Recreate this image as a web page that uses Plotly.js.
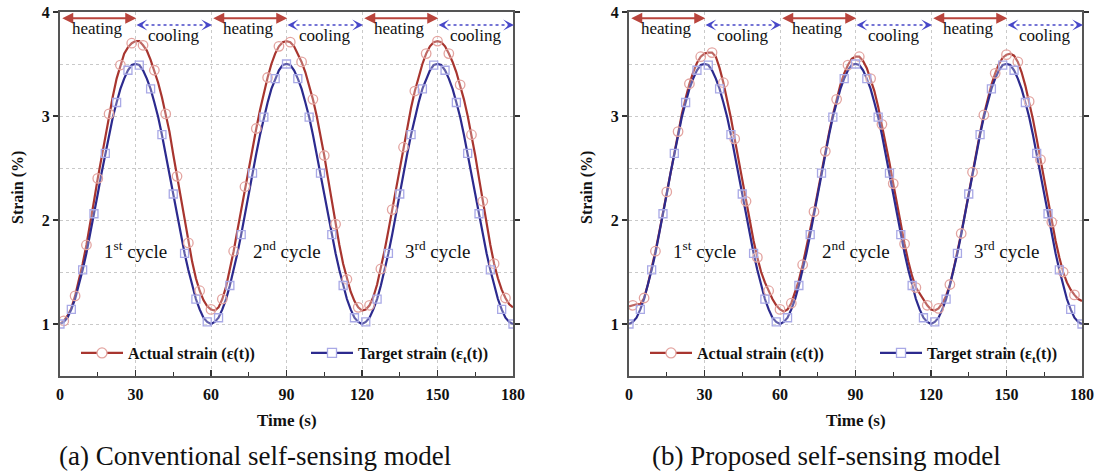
<!DOCTYPE html>
<html>
<head>
<meta charset="utf-8">
<script src="https://cdn.plot.ly/plotly-3.0.1.min.js"></script>
<style>
  html, body { margin: 0; padding: 0; background: #fff; overflow: hidden; }
  #chart { width: 1097px; height: 471px; }
</style>
</head>
<body>
<div id="chart"></div>
<script>
// Time axis (s), sampled every 1.5 s over three 60 s heating/cooling cycles
const timeS = [
  0, 1.5, 3, 4.5, 6, 7.5, 9, 10.5, 12, 13.5,
  15, 16.5, 18, 19.5, 21, 22.5, 24, 25.5, 27, 28.5,
  30, 31.5, 33, 34.5, 36, 37.5, 39, 40.5, 42, 43.5,
  45, 46.5, 48, 49.5, 51, 52.5, 54, 55.5, 57, 58.5,
  60, 61.5, 63, 64.5, 66, 67.5, 69, 70.5, 72, 73.5,
  75, 76.5, 78, 79.5, 81, 82.5, 84, 85.5, 87, 88.5,
  90, 91.5, 93, 94.5, 96, 97.5, 99, 100.5, 102, 103.5,
  105, 106.5, 108, 109.5, 111, 112.5, 114, 115.5, 117, 118.5,
  120, 121.5, 123, 124.5, 126, 127.5, 129, 130.5, 132, 133.5,
  135, 136.5, 138, 139.5, 141, 142.5, 144, 145.5, 147, 148.5,
  150, 151.5, 153, 154.5, 156, 157.5, 159, 160.5, 162, 163.5,
  165, 166.5, 168, 169.5, 171, 172.5, 174, 175.5, 177, 178.5,
  180
];

// Target strain ε_t(t) in %, same command for both models
const targetStrain = [
  1.00, 1.02, 1.06, 1.14, 1.24, 1.37, 1.52, 1.68, 1.86, 2.06,
  2.25, 2.45, 2.64, 2.82, 2.99, 3.13, 3.26, 3.36, 3.44, 3.49,
  3.50, 3.49, 3.44, 3.36, 3.26, 3.13, 2.99, 2.82, 2.64, 2.45,
  2.25, 2.06, 1.86, 1.68, 1.52, 1.37, 1.24, 1.14, 1.06, 1.02,
  1.00, 1.02, 1.06, 1.14, 1.24, 1.37, 1.52, 1.68, 1.86, 2.06,
  2.25, 2.45, 2.64, 2.82, 2.99, 3.13, 3.26, 3.36, 3.44, 3.49,
  3.50, 3.49, 3.44, 3.36, 3.26, 3.13, 2.99, 2.82, 2.64, 2.45,
  2.25, 2.06, 1.86, 1.68, 1.52, 1.37, 1.24, 1.14, 1.06, 1.02,
  1.00, 1.02, 1.06, 1.14, 1.24, 1.37, 1.52, 1.68, 1.86, 2.06,
  2.25, 2.45, 2.64, 2.82, 2.99, 3.13, 3.26, 3.36, 3.44, 3.49,
  3.50, 3.49, 3.44, 3.36, 3.26, 3.13, 2.99, 2.82, 2.64, 2.45,
  2.25, 2.06, 1.86, 1.68, 1.52, 1.37, 1.24, 1.14, 1.06, 1.02,
  1.00
];

// Actual strain ε(t) in %, conventional self-sensing model
const actualConventional = [
  1.00, 1.03, 1.08, 1.15, 1.27, 1.42, 1.58, 1.76, 1.96, 2.18,
  2.40, 2.60, 2.82, 3.02, 3.19, 3.36, 3.49, 3.60, 3.66, 3.70,
  3.72, 3.72, 3.68, 3.63, 3.54, 3.44, 3.32, 3.18, 3.02, 2.85,
  2.63, 2.42, 2.20, 1.98, 1.78, 1.60, 1.44, 1.32, 1.23, 1.17,
  1.14, 1.13, 1.16, 1.24, 1.36, 1.52, 1.70, 1.90, 2.10, 2.32,
  2.50, 2.68, 2.88, 3.06, 3.22, 3.37, 3.50, 3.60, 3.67, 3.71,
  3.72, 3.71, 3.67, 3.60, 3.52, 3.42, 3.30, 3.16, 3.00, 2.82,
  2.62, 2.40, 2.18, 1.96, 1.76, 1.58, 1.43, 1.31, 1.22, 1.16,
  1.13, 1.14, 1.18, 1.26, 1.38, 1.53, 1.71, 1.90, 2.10, 2.31,
  2.50, 2.70, 2.90, 3.08, 3.24, 3.38, 3.50, 3.60, 3.67, 3.71,
  3.72, 3.71, 3.67, 3.60, 3.52, 3.42, 3.30, 3.16, 3.00, 2.82,
  2.62, 2.40, 2.18, 1.96, 1.76, 1.58, 1.44, 1.33, 1.25, 1.19,
  1.16
];

// Actual strain ε(t) in %, proposed self-sensing model
const actualProposed = [
  1.17, 1.18, 1.19, 1.19, 1.25, 1.38, 1.53, 1.70, 1.88, 2.07,
  2.27, 2.47, 2.66, 2.85, 3.02, 3.17, 3.31, 3.42, 3.51, 3.57,
  3.60, 3.61, 3.61, 3.57, 3.46, 3.32, 3.16, 2.98, 2.78, 2.58,
  2.38, 2.18, 1.98, 1.80, 1.64, 1.50, 1.40, 1.32, 1.24, 1.18,
  1.14, 1.12, 1.14, 1.20, 1.30, 1.42, 1.57, 1.73, 1.90, 2.08,
  2.27, 2.47, 2.66, 2.84, 3.01, 3.16, 3.30, 3.41, 3.49, 3.55,
  3.57, 3.57, 3.53, 3.46, 3.36, 3.24, 3.09, 2.92, 2.74, 2.55,
  2.35, 2.15, 1.95, 1.77, 1.60, 1.46, 1.35, 1.29, 1.24, 1.18,
  1.14, 1.13, 1.15, 1.20, 1.27, 1.38, 1.53, 1.69, 1.87, 2.06,
  2.26, 2.46, 2.65, 2.84, 3.01, 3.16, 3.30, 3.41, 3.50, 3.56,
  3.59, 3.60, 3.58, 3.52, 3.42, 3.29, 3.14, 2.97, 2.78, 2.58,
  2.38, 2.18, 1.98, 1.80, 1.64, 1.50, 1.40, 1.33, 1.28, 1.24,
  1.22
];

// Phase boundaries (s) and text labels
const heatingPhases = [[0, 30], [60, 90], [120, 150]];
const coolingPhases = [[30, 60], [90, 120], [150, 180]];
const cycleLabels = ['1<sup>st</sup> cycle', '2<sup>nd</sup> cycle', '3<sup>rd</sup> cycle'];
const cycleCentres = [30, 90, 150];
const panelCaptions = ['(a) Conventional self-sensing model', '(b) Proposed self-sensing model'];
const legendNames = ['Actual strain (ε(t))', 'Target strain (ε<sub>t</sub>(t))'];

// ---- styling ----
const W = 1097, H = 471;
const SERIF = 'Liberation Serif';
const RED = '#a8352f';
const RED_ARROW = '#b9443c';
const RED_MARK = '#e3a4a0';
const BLUE = '#2c2a8e';
const BLUE_ARROW = '#4747c8';
const BLUE_MARK = '#a9a9e6';
const GRID = '#c9c9c9';

const px = v => v / W;          // horizontal pixel -> paper fraction
const py = v => 1 - v / H;      // vertical pixel -> paper fraction

const panels = [
  { xa: 'x', ya: 'y', left: 60, right: 513, legend: 'legend', actual: actualConventional, caption: panelCaptions[0], capLeft: 57 },
  { xa: 'x2', ya: 'y2', left: 629, right: 1082, legend: 'legend2', actual: actualProposed, caption: panelCaptions[1], capLeft: 650 }
];
const plotTop = 12, plotBottom = 376;

// every third sample carries a marker
const pick = (arr, offset) => arr.filter((_, i) => i % 3 === offset);

const traces = [];
const annotations = [];
const shapes = [];

panels.forEach((p, k) => {
  const xs = timeS;
  // actual strain line
  traces.push({ x: xs, y: p.actual, xaxis: p.xa, yaxis: p.ya, mode: 'lines', showlegend: false,
    line: { color: RED, width: 2.2 }, hoverinfo: 'skip' });
  // target strain line
  traces.push({ x: xs, y: targetStrain, xaxis: p.xa, yaxis: p.ya, mode: 'lines', showlegend: false,
    line: { color: BLUE, width: 2.2 }, hoverinfo: 'skip' });
  // markers
  traces.push({ x: pick(xs, 1), y: pick(p.actual, 1), xaxis: p.xa, yaxis: p.ya, mode: 'markers', showlegend: false,
    marker: { symbol: 'circle', size: 9.5, color: 'rgba(255,255,255,0.25)', line: { color: RED_MARK, width: 1.3 } } });
  traces.push({ x: pick(xs, 0), y: pick(targetStrain, 0), xaxis: p.xa, yaxis: p.ya, mode: 'markers', showlegend: false,
    marker: { symbol: 'square', size: 8, color: 'rgba(255,255,255,0.25)', line: { color: BLUE_MARK, width: 1.3 } } });
  // legend entries
  traces.push({ x: [null], y: [null], xaxis: p.xa, yaxis: p.ya, mode: 'lines+markers', name: legendNames[0], legend: p.legend,
    line: { color: RED, width: 2.2 }, marker: { symbol: 'circle', size: 10, color: '#fff', line: { color: RED_MARK, width: 1.3 } } });
  traces.push({ x: [null], y: [null], xaxis: p.xa, yaxis: p.ya, mode: 'lines+markers', name: legendNames[1], legend: p.legend,
    line: { color: BLUE, width: 2.2 }, marker: { symbol: 'square', size: 9, color: '#fff', line: { color: BLUE_MARK, width: 1.3 } } });

  // heating arrows (solid red, double headed) and labels
  heatingPhases.forEach(([a, b]) => {
    annotations.push({ xref: p.xa, yref: p.ya, axref: p.xa, ayref: p.ya, x: b + 0.3, y: 3.94, ax: a + 0.3, ay: 3.94,
      text: '', showarrow: true, arrowside: 'end+start', arrowhead: 2, startarrowhead: 2,
      arrowsize: 1.1, startarrowsize: 1.1, arrowwidth: 2, arrowcolor: RED_ARROW });
    annotations.push({ xref: p.xa, yref: p.ya, x: (a + b) / 2, y: 3.845, text: 'heating', showarrow: false,
      xanchor: 'center', yanchor: 'middle', font: { family: SERIF, size: 17, color: '#111' } });
  });
  // cooling arrows (dotted blue, open heads) and labels
  coolingPhases.forEach(([a, b]) => {
    shapes.push({ type: 'line', xref: p.xa, yref: p.ya, x0: a + 1.6, x1: b - 0.8, y0: 3.875, y1: 3.875,
      line: { color: BLUE_ARROW, width: 1.6, dash: 'dot' } });
    annotations.push({ xref: p.xa, yref: p.ya, axref: p.xa, ayref: p.ya, x: a + 0.4, y: 3.875, ax: a + 2.2, ay: 3.875,
      text: '', showarrow: true, arrowhead: 3, arrowsize: 1.2, arrowwidth: 1.5, arrowcolor: BLUE_ARROW });
    annotations.push({ xref: p.xa, yref: p.ya, axref: p.xa, ayref: p.ya, x: b + 0.4, y: 3.875, ax: b - 1.4, ay: 3.875,
      text: '', showarrow: true, arrowhead: 3, arrowsize: 1.2, arrowwidth: 1.5, arrowcolor: BLUE_ARROW });
    annotations.push({ xref: p.xa, yref: p.ya, x: (a + b) / 2, y: 3.775, text: 'cooling', showarrow: false,
      xanchor: 'center', yanchor: 'middle', font: { family: SERIF, size: 17, color: '#111' } });
  });
  // cycle labels
  cycleLabels.forEach((t, i) => {
    annotations.push({ xref: p.xa, yref: p.ya, x: cycleCentres[i], y: 1.71, text: t, showarrow: false,
      xanchor: 'center', yanchor: 'middle', font: { family: SERIF, size: 19, color: '#111' } });
  });
  // axis titles
  annotations.push({ xref: 'paper', yref: 'paper', x: px(p.left - 42), y: py(188), text: 'Strain (%)', textangle: -90,
    xanchor: 'center', yanchor: 'middle', showarrow: false, font: { family: SERIF, size: 16, color: '#111', weight: 'bold' } });
  annotations.push({ xref: 'paper', yref: 'paper', x: px((p.left + p.right) / 2), y: py(420), text: 'Time (s)',
    xanchor: 'center', yanchor: 'middle', showarrow: false, font: { family: SERIF, size: 17, color: '#111', weight: 'bold' } });
  // caption
  annotations.push({ xref: 'paper', yref: 'paper', x: px(p.capLeft), y: py(456), xanchor: 'left', yanchor: 'middle',
    text: p.caption, showarrow: false, font: { family: SERIF, size: 27, color: '#111' } });
});

const tickFont = { family: SERIF, size: 16, color: '#111', weight: 'bold' };
function xAxis(p) {
  return {
    domain: [px(p.left), px(p.right)], anchor: p.ya, range: [0, 180], tick0: 0, dtick: 30,
    ticks: 'inside', ticklen: 6, tickwidth: 1.5, tickcolor: '#333',
    showline: true, linecolor: '#555', linewidth: 2, mirror: true,
    showgrid: true, gridcolor: GRID, griddash: 'dot', gridwidth: 1, zeroline: false,
    tickfont: tickFont, fixedrange: true, ticklabelstandoff: 3,
    minor: { dtick: 15, tick0: 0, ticks: 'inside', ticklen: 4, tickwidth: 1.3, tickcolor: '#333', showgrid: false }
  };
}
function yAxis(p) {
  return {
    domain: [py(plotBottom), py(plotTop)], anchor: p.xa, range: [0.5, 4], tick0: 0, dtick: 1,
    ticks: 'outside', ticklen: 5, tickwidth: 1.5, tickcolor: '#333',
    showline: true, linecolor: '#555', linewidth: 2, mirror: 'ticks',
    showgrid: true, gridcolor: GRID, griddash: 'dot', gridwidth: 1, zeroline: false,
    tickfont: tickFont, fixedrange: true,
    minor: { dtick: 0.5, tick0: 0, showgrid: true, gridcolor: GRID, griddash: 'dot', gridwidth: 1, ticks: '' }
  };
}
function legendBox(p) {
  return {
    x: px(p.left + 16), y: py(353), xanchor: 'left', yanchor: 'middle', orientation: 'h',
    bgcolor: 'rgba(0,0,0,0)', borderwidth: 0, entrywidth: 173, itemwidth: 42,
    font: { family: SERIF, size: 16, color: '#111', weight: 'bold' }
  };
}

const layout = {
  width: W, height: H,
  margin: { l: 0, r: 0, t: 0, b: 0, autoexpand: false },
  paper_bgcolor: '#fff', plot_bgcolor: '#fff',
  showlegend: true,
  xaxis: xAxis(panels[0]), yaxis: yAxis(panels[0]),
  xaxis2: xAxis(panels[1]), yaxis2: yAxis(panels[1]),
  legend: legendBox(panels[0]), legend2: legendBox(panels[1]),
  annotations, shapes,
  font: { family: SERIF }
};

Plotly.newPlot('chart', traces, layout, { staticPlot: true, displayModeBar: false });
</script>
</body>
</html>
